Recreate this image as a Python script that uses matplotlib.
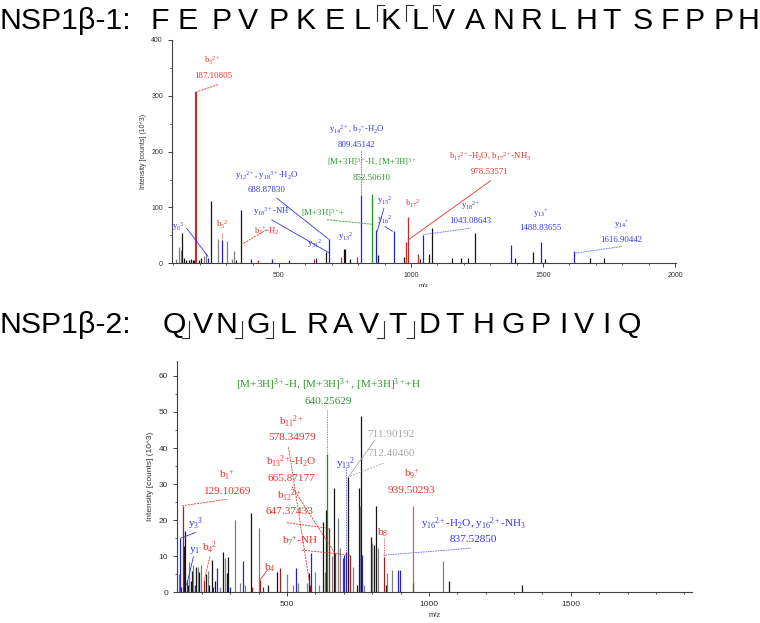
import numpy as np
import matplotlib
matplotlib.use('Agg')
import matplotlib.pyplot as plt
from matplotlib.lines import Line2D
from matplotlib.ticker import MultipleLocator

plt.rcParams['font.family'] = ['Liberation Sans', 'DejaVu Sans']
plt.rcParams['mathtext.fontset'] = 'custom'
plt.rcParams['mathtext.rm'] = 'Liberation Serif'
plt.rcParams['mathtext.it'] = 'Liberation Serif:italic'
plt.rcParams['mathtext.bf'] = 'Liberation Serif:bold'

# ---- peptide sequences ----
seq1 = list('FEPVPKELKLVANRLHTSFPPH')
cuts1 = [7, 8, 9]          # fragment marks after these residues (top)
seq2 = list('QVNGLRAVTDTHGPIVIQ')
cuts2 = [0, 2, 3, 7, 8]    # fragment marks after these residues (bottom)

# ---- spectrum 1 (NSP1b-1) ----
top_mz = [112, 121, 128, 134, 140, 147, 160, 167, 173, 179, 187.1, 197, 204, 216, 223, 230,
          242, 268, 285, 302, 321, 330, 337, 356, 396, 421, 472, 539, 631, 639, 679, 689,
          734, 747, 752, 771, 796, 811, 853, 867, 877, 934, 973, 982, 987, 1027, 1035,
          1047, 1069, 1078, 1157, 1190, 1217, 1243, 1378, 1395, 1464, 1492, 1508, 1619,
          1678, 1733]
top_int = [7, 30, 24, 54, 9, 6, 5, 8, 6, 5, 307, 5, 9, 13, 18, 9,
           111, 43, 41, 40, 8, 22, 5, 96, 7, 6, 7, 6, 7, 10, 20, 43,
           12, 26, 25, 7, 11, 122, 125, 60, 15, 57, 11, 39, 83, 17, 8,
           50, 16, 63, 9, 9, 9, 55, 32, 9, 21, 38, 7, 22,
           9, 10]
top_col = list('gggkkkkkkkrkkggb'
               'kgbgggkkbrbbrbkb'
               'rkkkrbGbkbkrrrk'
               'bkkkkkkbkkbkb'
               'kk')

# ---- spectrum 2 (NSP1b-2) ----
bot_mz = [120, 123, 125, 132, 138, 140, 146, 150, 155, 160, 164, 170, 174, 179, 185, 191,
          197, 208, 214, 222, 226, 234, 240, 247, 254, 262, 275, 281, 287, 293, 299, 317,
          335, 346, 352, 372, 376, 401, 404, 416, 434, 464, 475, 499, 522, 531, 537, 570,
          578, 581, 585, 599, 611, 626, 632, 638, 640.3, 649, 657, 667, 669, 678, 688,
          696, 699, 708, 716, 722, 734, 746, 755, 757, 761, 764, 770, 795, 801, 806, 813,
          819, 840, 848, 852, 870, 891, 897, 943, 944, 1051, 1069, 1328]
bot_int = [5, 15, 1.6, 24, 12.7, 17, 3.4, 2, 8.5, 3, 6, 7.6, 2, 7, 7, 5.7,
           7.6, 3.4, 5, 6, 2, 9, 1.6, 3, 6.7, 1.6, 11.3, 9.4, 5.3, 9.9, 1.6, 20,
           2.5, 8.8, 2, 22, 1.6, 17.7, 3.4, 1.6, 2, 5.5, 6.7, 5, 2, 6.8, 2.5, 2.5,
           5.3, 2, 10.8, 5.5, 2, 19.4, 5.7, 22.8, 38.4, 17.7, 10, 28.8, 10.8, 20.7, 12.2,
           9.4, 10.4, 11.3, 32, 10.4, 7, 2, 29, 23.8, 49, 10.4, 2, 15.4, 13.6, 13.2, 24,
           12.2, 9.9, 2, 5.3, 6.2, 6.2, 6.2, 24, 2.5, 8.7, 3.2, 2]
bot_col = list('gbbrkkbkgkkgbkgk'
               'grkgkkbkbgkgkkbg'
               'gbgkrgrbkkrgpbgg'
               'krbggkgkGrgkrgg'
               'rbbkrgkkgkbgkgkk'
               'grkggbbpGgkk')

# ---- annotations: (name, value, x, y, colour, connector [x0, y0, x1, y1], line style) ----
top_labels = [
    (r'b$_{3}{}^{2+}$', '187.10805', 250, 362, 'r', (269, 320, 187.1, 307), '--'),
    (r'y$_{14}{}^{2+}$, b$_{7}{}^{+}$-H$_2$O', '809.45142', 794, 239, 'b', (811, 203, 811, 122), ':'),
    (r'[M+3H]$^{3+}$-H, [M+3H]$^{3+}$', '852.50610', 851, 180, 'G', None, '-'),
    (r'y$_{12}{}^{2+}$, y$_{18}{}^{3+}$-H$_2$O', '688.87830', 453, 158, 'b', (491, 117, 689, 43), '-'),
    (r'[M+3H]$^{3+}$+', None, 667, 90, 'G', (682, 78, 851, 70), '--'),
    (r'y$_{18}{}^{3+}$-NH', None, 472, 93, 'b', (472, 78, 689, 19), '-'),
    (r'b$_{3}{}^{+}$-H$_2$', None, 453, 57, 'r', (453, 60, 356, 33), '--'),
    (r'b$_{5}{}^{2}$', None, 287, 69, 'r', (285, 54, 285, 41), ':'),
    (r'y$_{6}{}^{3}$', None, 118, 66, 'b', (150, 63, 232, 12), '-'),
    (r'y$_{31}{}^{2}$', None, 636, 36, 'b', None, '-'),
    (r'y$_{13}{}^{2}$', None, 754, 48, 'b', None, '-'),
    (r'y$_{15}{}^{2}$', None, 901, 112, 'b', (898, 99, 872, 57), '-'),
    (r'y$_{16}{}^{2}$', None, 901, 79, 'b', (901, 66, 931, 57), '-'),
    (r'b$_{17}{}^{2}$', None, 1006, 106, 'r', None, '-'),
    (r'b$_{17}{}^{2+}$-H$_2$O, b$_{17}{}^{2+}$-NH$_3$', '978.53571', 1299, 191, 'r', (1302, 148, 990, 42), '-'),
    (r'y$_{18}{}^{2+}$', '1043.08643', 1226, 103, 'b', (1226, 63, 1044, 51), ':'),
    (r'y$_{13}{}^{+}$', '1488.83655', 1491, 90, 'b', None, '-'),
    (r'y$_{14}{}^{+}$', '1616.90442', 1798, 69, 'b', (1798, 30, 1620, 18), ':'),
]
bot_labels = [
    (r'[M+3H]$^{3+}$-H, [M+3H]$^{3+}$, [M+3H]$^{3+}$+H', '640.25629', 646, 57.5, 'G', (640.3, 50.6, 640.3, 38.4), ':'),
    (r'b$_{11}{}^{2+}$', '578.34979', 517, 47.3, 'r', (505, 40.2, 581, 1.6), '--'),
    (r'b$_{13}{}^{2+}$-H$_2$O', '665.87177', 514, 36.1, 'r', (517, 29.3, 669, 10.8), '--'),
    (r'b$_{12}{}^{2+}$', '647.37433', 508, 26.8, 'r', (499, 19.3, 649, 17.7), '--'),
    (r'b$_{7}{}^{+}$-NH', None, 546, 14.2, 'r', (552, 11.7, 722, 10.3), '--'),
    (r'b$_{1}{}^{+}$', '129.10269', 287, 32.5, 'r', (287, 25.8, 132, 24), '--'),
    (r'y$_{3}{}^{3}$', None, 178, 18.9, 'b', (178, 16.6, 125, 15), '-'),
    (r'y$_{1}$', None, 175, 11.5, 'b', (170, 9.9, 146, 2), '-'),
    (r'b$_{4}{}^{2}$', None, 228, 12.2, 'r', (228, 9.9, 208, 3.4), '--'),
    (r'b$_{4}$', None, 440, 6.8, 'r', (431, 6.2, 404, 3.4), '-'),
    (r'y$_{13}{}^{2}$', None, 708, 35.6, 'b', (708, 34.4, 708, 11.3), ':'),
    ('711.90192', None, 867, 43.8, 'x', (810, 42.2, 716, 32), '-'),
    ('712.40460', None, 867, 38.6, 'x', (840, 35.8, 716, 32), '--'),
    (r'b$_{9}{}^{+}$', '939.50293', 940, 32.8, 'r', None, '-'),
    (r'b$_{8}$', None, 838, 16.5, 'r', (840, 15, 840, 9.9), ':'),
    (r'y$_{16}{}^{2+}$-H$_2$O, y$_{16}{}^{2+}$-NH$_3$', '837.52850', 1157, 19.1, 'b', (1146, 12.2, 840, 10.3), ':'),
]

peak_colors = {'k': '#151515', 'g': '#808080', 'r': '#d42424', 'b': '#2020d8',
               'G': '#1a9a1a', 'p': '#c06060'}
peak_colors2 = {'k': '#151515', 'g': '#808080', 'r': '#a81c1c', 'b': '#2424d0',
                'G': '#1a8a1a', 'p': '#c46868'}
text_colors = {'r': '#e8302a', 'b': '#3434ee', 'G': '#2a982a', 'x': '#a8a8a8'}
dash_styles = {'-': (1, 0), '--': (2.5, 1.2), ':': (1, 1)}

fig = plt.figure(figsize=(7.6, 6.23), dpi=100)


def draw_spectrum(ax, mz, inten, cols, pal, labels, fs, gap, tick_fs):
    # annotated (coloured) peaks drawn over the unassigned ones
    order = sorted(range(len(mz)), key=lambda i: cols[i] in 'rbGp')
    for i in order:
        ax.vlines(mz[i], 0, inten[i], color=pal[cols[i]], lw=0.9 if inten[i] < 200 else 1.5)
    for name, val, x, y, c, con, ls in labels:
        tc = text_colors[c]
        if con is not None:
            ax.plot([con[0], con[2]], [con[1], con[3]], color=tc, lw=0.6,
                    dashes=dash_styles[ls])
        ax.text(x, y, name, ha='center', va='center', color=tc, fontsize=fs,
                family='Liberation Serif')
        if val:
            ax.text(x, y - gap, val, ha='center', va='center', color=tc, fontsize=fs,
                    family='Liberation Serif')
    for s in ['top', 'right']:
        ax.spines[s].set_visible(False)
    for s in ['left', 'bottom']:
        ax.spines[s].set_color('#404040')
        ax.spines[s].set_linewidth(0.8)
    ax.tick_params(which='major', length=3, width=0.7, colors='#404040', labelsize=tick_fs,
                   labelcolor='#333333')
    ax.tick_params(which='minor', length=1.6, width=0.6, colors='#404040')
    ax.set_ylabel('Intensity [counts] (10^3)', fontsize=tick_fs, color='#333333', labelpad=3)
    ax.set_xlabel('m/z', fontsize=tick_fs - 0.5, color='#333333', labelpad=3)
    ax.patch.set_alpha(0)


# top spectrum
ax1 = fig.add_axes([0.2263, 0.5774, 0.6632, 0.3584])
ax1.set_xlim(95, 2004)
ax1.set_ylim(0, 400)
ax1.xaxis.set_major_locator(MultipleLocator(500))
ax1.xaxis.set_minor_locator(MultipleLocator(100))
ax1.yaxis.set_major_locator(MultipleLocator(100))
ax1.yaxis.set_minor_locator(MultipleLocator(50))
draw_spectrum(ax1, top_mz, top_int, top_col, peak_colors, top_labels, 6.3, 27, 5)

# bottom spectrum
ax2 = fig.add_axes([0.2329, 0.0493, 0.6776, 0.3717])
ax2.set_xlim(112, 1927)
ax2.set_ylim(0, 64.2)
ax2.xaxis.set_major_locator(MultipleLocator(500))
ax2.xaxis.set_minor_locator(MultipleLocator(100))
ax2.yaxis.set_major_locator(MultipleLocator(10))
ax2.yaxis.set_minor_locator(MultipleLocator(5))
draw_spectrum(ax2, bot_mz, bot_int, bot_col, peak_colors2, bot_labels, 8.1, 4.5, 6)

# sequence headers (letter centres in pixels)
W, H = 760.0, 623.0
xs1 = [160, 188, 222, 248, 279, 306, 335, 362, 391, 420, 445, 475, 503, 531, 558, 586,
       612, 643, 670, 695, 724, 748]
xs2 = [174, 203, 226, 258, 288, 317, 343, 369, 398, 429, 455, 483, 513, 541, 563, 584,
       606, 629]


def seq_header(title, seq, cuts, xs, base_y, top_marks):
    fig.text(0 / W, 1 - base_y / H, title, fontsize=21.8, va='baseline', ha='left',
             family=['Liberation Sans', 'DejaVu Sans'])
    for x, r in zip(xs, seq):
        fig.text(x / W, 1 - base_y / H, r, fontsize=21.8, va='baseline',
                 ha='center', family='Liberation Sans')
    for i in cuts:
        xm = (xs[i] + xs[i + 1]) / 2.0
        if top_marks:
            y_top, y_bot = base_y - 24, base_y - 8
            fig.add_artist(Line2D([xm / W, xm / W], [1 - y_top / H, 1 - y_bot / H],
                                  color='#333333', lw=0.8))
            fig.add_artist(Line2D([xm / W, (xm + 7) / W], [1 - y_top / H, 1 - y_top / H],
                                  color='#333333', lw=0.8))
        else:
            y_top, y_bot = base_y - 12, base_y + 5
            fig.add_artist(Line2D([xm / W, xm / W], [1 - y_top / H, 1 - y_bot / H],
                                  color='#333333', lw=0.8))
            fig.add_artist(Line2D([(xm - 7) / W, xm / W], [1 - y_bot / H, 1 - y_bot / H],
                                  color='#333333', lw=0.8))


seq_header('NSP1\u03b2-1:', seq1, cuts1, xs1, 29, True)
seq_header('NSP1\u03b2-2:', seq2, cuts2, xs2, 333, False)

fig.savefig('out.png', dpi=100)
